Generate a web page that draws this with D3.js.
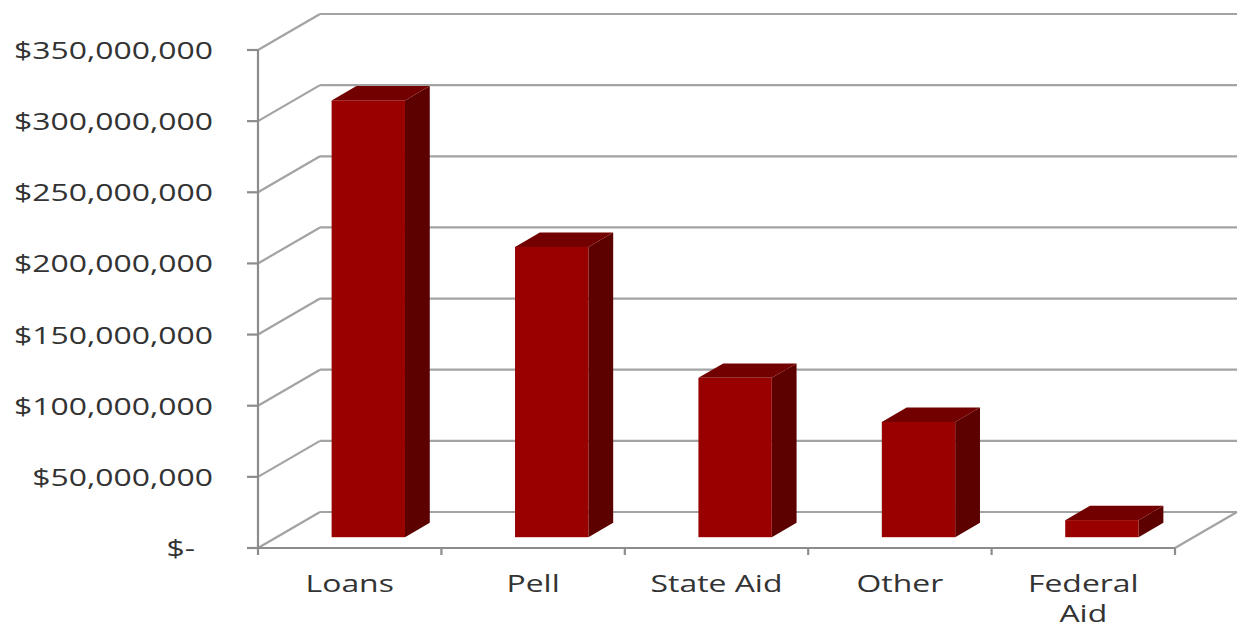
<!DOCTYPE html>
<html>
<head>
<meta charset="utf-8">
<script src="https://cdn.jsdelivr.net/npm/d3@7"></script>
<style>
  html, body { margin: 0; padding: 0; background: #ffffff; }
  svg { display: block; }
</style>
</head>
<body>
<svg id="chart" width="1239" height="629"></svg>
<script>
// ---- data ----
const categories = ["Loans", "Pell", "State Aid", "Other", "Federal Aid"];
const amounts = [307000000, 204000000, 112000000, 81000000, 12000000];
const tickValues = [0, 50000000, 100000000, 150000000, 200000000, 250000000, 300000000, 350000000];
const tickLabels = ["$-", "$50,000,000", "$100,000,000", "$150,000,000", "$200,000,000", "$250,000,000", "$300,000,000", "$350,000,000"];

(function () {
// ---- layout ----
const svg = d3.select("#chart");
const plotLeft = 258, plotRight = 1175, plotBottom = 548, plotTop = 50;
const depthX = 62, depthY = -36;      // wall depth offset
const f1 = 0.3, f2 = 0.7;             // bar depth placement (fraction of depth)
const gridColor = "#a3a3a3";
const axisColor = "#8c8c8c";
const textColor = "#333333";
const font = "'Open Sans', 'DejaVu Sans', sans-serif";
const sx = 1.33; // horizontal stretch of text as in reference
const fs = 24;

const y = d3.scaleLinear().domain([0, 350000000]).range([plotBottom, plotTop]);
const x = d3.scaleBand().domain(categories).range([plotLeft, plotRight]).paddingInner(0.6).paddingOuter(0.3);

const g = svg.append("g");

// back wall gridlines + left wall diagonals
tickValues.forEach((v) => {
  const yf = y(v);
  g.append("line")
    .attr("x1", plotLeft + depthX).attr("x2", plotRight + depthX)
    .attr("y1", yf + depthY).attr("y2", yf + depthY)
    .attr("stroke", gridColor).attr("stroke-width", 2.2);
  g.append("line")
    .attr("x1", plotLeft).attr("y1", yf)
    .attr("x2", plotLeft + depthX).attr("y2", yf + depthY)
    .attr("stroke", gridColor).attr("stroke-width", 2.2);
});

// floor right edge
g.append("line")
  .attr("x1", plotRight).attr("y1", plotBottom)
  .attr("x2", plotRight + depthX).attr("y2", plotBottom + depthY)
  .attr("stroke", gridColor).attr("stroke-width", 2.2);

// value axis line + ticks
g.append("line")
  .attr("x1", plotLeft).attr("x2", plotLeft)
  .attr("y1", y(350000000)).attr("y2", plotBottom)
  .attr("stroke", axisColor).attr("stroke-width", 2.2);
tickValues.forEach((v) => {
  g.append("line")
    .attr("x1", plotLeft - 11).attr("x2", plotLeft)
    .attr("y1", y(v)).attr("y2", y(v))
    .attr("stroke", axisColor).attr("stroke-width", 2.2);
});

// category axis line + ticks
g.append("line")
  .attr("x1", plotLeft).attr("x2", plotRight)
  .attr("y1", plotBottom).attr("y2", plotBottom)
  .attr("stroke", axisColor).attr("stroke-width", 2.2);
const step = x.step();
for (let k = 0; k <= categories.length; k++) {
  const tx = plotLeft + k * step;
  g.append("line")
    .attr("x1", tx).attr("x2", tx)
    .attr("y1", plotBottom).attr("y2", plotBottom + 7)
    .attr("stroke", axisColor).attr("stroke-width", 2.2);
}

// bars
const ox1 = depthX * f1, oy1 = depthY * f1;
const ox2 = depthX * f2, oy2 = depthY * f2;
const bars = g.append("g");
categories.forEach((c, i) => {
  const v = amounts[i];
  const xl = x(c) + ox1, xr = x(c) + x.bandwidth() + ox1;
  const yt = y(v) + oy1, yb = y(0) + oy1;
  const dx = ox2 - ox1, dy = oy2 - oy1;
  // side face
  bars.append("path")
    .attr("d", `M${xr},${yt} L${xr + dx},${yt + dy} L${xr + dx},${yb + dy} L${xr},${yb} Z`)
    .attr("fill", "#5c0000");
  // top face
  bars.append("path")
    .attr("d", `M${xl},${yt} L${xl + dx},${yt + dy} L${xr + dx},${yt + dy} L${xr},${yt} Z`)
    .attr("fill", "#720000");
  // front face
  bars.append("rect")
    .attr("x", xl).attr("y", yt)
    .attr("width", xr - xl).attr("height", yb - yt)
    .attr("fill", "#990000");
});

// value labels
tickValues.forEach((v, i) => {
  const isZero = v === 0;
  const ax = isZero ? 195 : 213;
  g.append("g")
    .attr("transform", `translate(${ax},${y(v) + 9}) scale(${sx},1)`)
    .append("text")
    .attr("text-anchor", "end")
    .attr("font-family", font)
    .attr("font-size", fs)
    .attr("fill", textColor)
    .text(tickLabels[i]);
});

// category labels
categories.forEach((c) => {
  const cx = x(c) + x.bandwidth() / 2;
  const words = c === "Federal Aid" ? ["Federal", "Aid"] : [c];
  words.forEach((w, j) => {
    g.append("g")
      .attr("transform", `translate(${cx},${592 + j * 30}) scale(${sx},1)`)
      .append("text")
      .attr("text-anchor", "middle")
      .attr("font-family", font)
      .attr("font-size", fs)
      .attr("fill", textColor)
      .text(w);
  });
});
})();
</script>
</body>
</html>
